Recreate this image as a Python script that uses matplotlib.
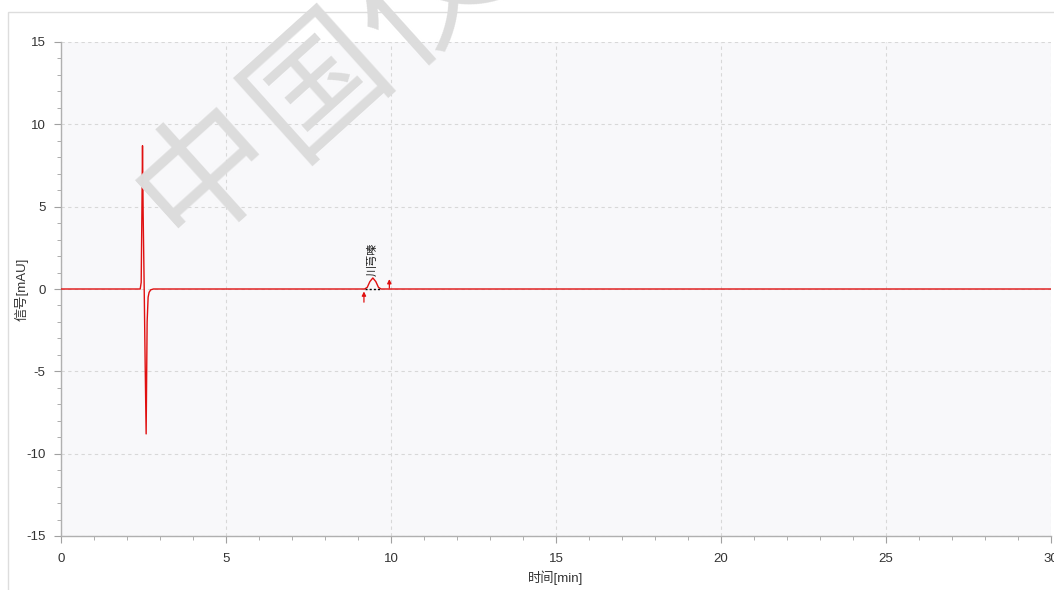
"""Chromatogram plot: signal trace with one integrated peak."""

import matplotlib
matplotlib.use("Agg")
import matplotlib.pyplot as plt
from matplotlib.patches import Rectangle
from matplotlib.ticker import MultipleLocator

plt.rcParams["font.family"] = ["Liberation Sans", "Noto Sans CJK SC"]
plt.rcParams["axes.unicode_minus"] = False

# Retention time [min] and detector signal [mAU]
time_min = [0.0, 2.40, 2.43, 2.45, 2.47, 2.49, 2.52, 2.55, 2.58, 2.61, 2.64,
            2.67, 2.72, 2.80, 9.20, 9.28, 9.36, 9.45, 9.54, 9.62, 9.70, 30.0]
signal_mau = [0.0, 0.0, 0.4, 4.4, 8.7, 4.5, 0.2, -4.5, -8.8, -2.0, -0.5,
              -0.2, -0.05, 0.0, 0.0, 0.1, 0.45, 0.67, 0.45, 0.1, 0.0, 0.0]

# Integrated peak
peak_name = "川芎嗪"
peak_apex = (9.45, 0.67)
peak_start = 9.20
peak_end = 9.70
start_marker = 9.18
end_marker = 9.95

x_ticks = [0, 5, 10, 15, 20, 25, 30]
y_ticks = [-15, -10, -5, 0, 5, 10, 15]

W, H = 1054, 590
fig = plt.figure(figsize=(W / 100, H / 100), dpi=100)
fig.patch.set_facecolor("white")
ax = fig.add_axes([61 / W, 1 - 536 / H, 990 / W, 494 / H])
ax.set_facecolor("#f8f8fa")

# outer frame of the panel
fig.patches.append(Rectangle((8 / W, -0.05), 1.1, 1 - 12 / H + 0.05,
                             transform=fig.transFigure, fill=False,
                             edgecolor="#dddddd", linewidth=1))

# watermark
for txt, cx, cy in [("中", 207, 172), ("国", 318, 84), ("仪", 430, -4)]:
    fig.text(cx / W, 1 - cy / H, txt, fontsize=98, color="#dcdcdc",
             rotation=42, ha="center", va="center", family="Noto Sans CJK SC",
             zorder=5)

ax.plot(time_min, signal_mau, color="#e01010", linewidth=1.0, zorder=3)

# peak baseline and integration markers
ax.plot([peak_start, peak_end], [0, 0], color="black", linestyle=(0, (1.5, 1.5)),
        linewidth=1.0, zorder=4)
ax.annotate("", xy=(start_marker, -0.15), xytext=(start_marker, -0.8),
            arrowprops=dict(arrowstyle="-|>", color="#e01010", lw=0.9,
                            mutation_scale=6, shrinkA=0, shrinkB=0))
ax.annotate("", xy=(end_marker, 0.6), xytext=(end_marker, 0.05),
            arrowprops=dict(arrowstyle="-|>", color="#e01010", lw=0.9,
                            mutation_scale=6, shrinkA=0, shrinkB=0))
ax.text(peak_apex[0], peak_apex[1] + 0.12, peak_name, rotation=90,
        ha="center", va="bottom", fontsize=8, color="#222222")

ax.set_xlim(0, 30)
ax.set_ylim(-15, 15)
ax.set_xticks(x_ticks)
ax.set_yticks(y_ticks)
ax.xaxis.set_minor_locator(MultipleLocator(1))
ax.yaxis.set_minor_locator(MultipleLocator(1))
ax.grid(True, which="major", color="#d8d8d8", linestyle=(0, (3, 3)), linewidth=0.8)
ax.set_axisbelow(True)

for side in ["top", "right"]:
    ax.spines[side].set_visible(False)
for side in ["left", "bottom"]:
    ax.spines[side].set_color("#b0b0b0")
    ax.spines[side].set_linewidth(1.0)

ax.tick_params(which="major", length=5, color="#a0a0a0", labelsize=9.5,
               labelcolor="#333333")
ax.tick_params(which="minor", length=3, color="#a0a0a0")
ax.tick_params(axis="x", pad=7)
ax.tick_params(axis="y", pad=6)

ax.set_xlabel("时间[min]", fontsize=9.5, color="#333333", va="center")
ax.set_ylabel("信号[mAU]", fontsize=9.5, color="#333333", va="center")
ax.xaxis.set_label_coords(0.5, (536 - 578) / 494)
ax.yaxis.set_label_coords((22 - 61) / 990, 0.5)

fig.savefig("out.png", dpi=100)
